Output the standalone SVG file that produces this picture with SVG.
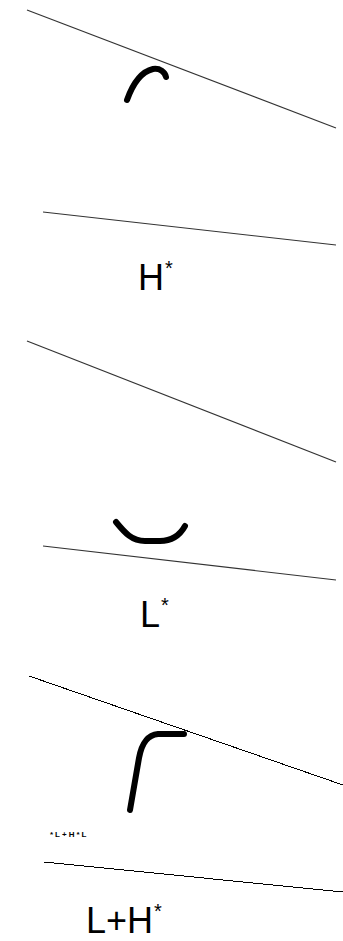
<svg xmlns="http://www.w3.org/2000/svg" width="343" height="941" viewBox="0 0 343 941">
<style>
.ln{stroke:#333;stroke-width:1.2;fill:none}
.ln2{stroke:#000;stroke-width:1;fill:none;shape-rendering:crispEdges}
.cv{stroke:#000;stroke-width:6;fill:none;stroke-linecap:round;stroke-linejoin:round}
.lab{font-family:"Liberation Sans",Arial,sans-serif;font-size:36px;fill:#000}
.sup{font-size:20px}
.tiny{font-family:"Liberation Sans",Arial,sans-serif;font-size:8px;font-weight:bold;fill:#000;letter-spacing:2px}
</style>
<rect width="343" height="941" fill="#fff"/>
<g id="panel-H">
<line class="ln" x1="27" y1="10" x2="336" y2="128"/>
<path class="cv" d="M127,100 C132,86 140,72 153,69 C160,68 165,72 166,77"/>
<line class="ln" x1="43" y1="212" x2="336" y2="245"/>
<text class="lab" x="138" y="290">H<tspan class="sup" dx="1" dy="-15">*</tspan></text>
</g>
<g id="panel-L">
<line class="ln" x1="27" y1="341" x2="336" y2="462"/>
<path class="cv" d="M116,522 C125,533 132,541 145,541 L160,541 C172,541 180,535 185,526"/>
<line class="ln" x1="43" y1="546" x2="336" y2="580"/>
<text class="lab" x="140" y="627">L<tspan class="sup" dx="1" dy="-15">*</tspan></text>
</g>
<g id="panel-LH">
<line class="ln2" x1="29" y1="676" x2="343" y2="785"/>
<path class="cv" d="M130,810 L139,758 C142,742 148,735 158,734 L184,734"/>
<text class="tiny" x="50" y="837">*L+H*L</text>
<line class="ln2" x1="44" y1="862" x2="343" y2="892"/>
<text class="lab" x="86" y="933">L+H<tspan class="sup" dx="1" dy="-15">*</tspan></text>
</g>
</svg>
